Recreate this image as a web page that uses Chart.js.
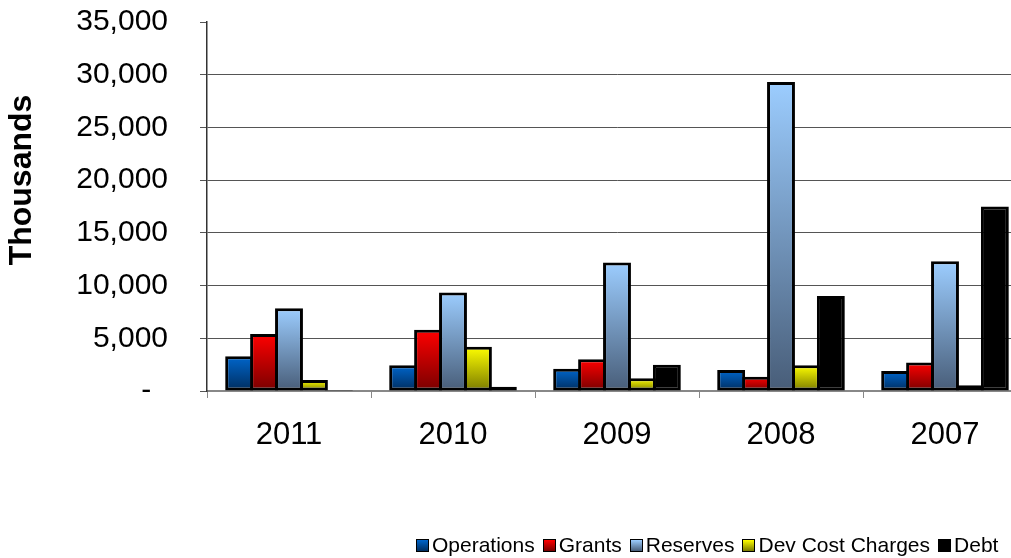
<!DOCTYPE html>
<html>
<head>
<meta charset="utf-8">
<script src="https://cdn.jsdelivr.net/npm/chart.js@4"></script>
<style>
    html, body { margin: 0; padding: 0; background: #fff; overflow: hidden; }
    #wrap { position: relative; width: 1030px; height: 558px; }
    #legend {
        position: absolute; left: 416px; top: 532px;
        display: flex; align-items: center;
        font-family: "Liberation Sans", Arial, sans-serif; font-size: 21px; color: #000;
        line-height: 26px; white-space: nowrap;
    }
    #legend .item { display: flex; align-items: center; margin-right: 8px; }
    #legend .box { width: 11px; height: 11px; border: 1.5px solid #000; margin-right: 3px; }
</style>
</head>
<body>
<div id="wrap">
    <canvas id="fundingChart" width="1030" height="558"></canvas>
    <div id="legend"></div>
</div>
<script>
const years = ['2011', '2010', '2009', '2008', '2007'];
const seriesNames = ['Operations', 'Grants', 'Reserves', 'Dev Cost Charges', 'Debt'];
const operations = [3300, 2450, 2100, 2000, 1900];
const grants = [5400, 5800, 3000, 1350, 2700];
const reserves = [7850, 9350, 12200, 29300, 12300];
const devCostCharges = [1050, 4200, 1200, 2450, 550];
const debt = [100, 400, 2500, 9000, 17500];
const yTicks = [0, 5000, 10000, 15000, 20000, 25000, 30000, 35000];

// top / bottom colours of each bar gradient
const fills = [
    ['#0066cc', '#002d5e'],
    ['#ff0000', '#780000'],
    ['#9ccdff', '#485d78'],
    ['#ffff00', '#7a7a00'],
    ['#000000', '#000000']
];

function barGradient(top, bottom) {
    return function(context) {
        const chart = context.chart;
        if (!chart.chartArea || !chart.scales.y) return top;
        const y = chart.scales.y;
        const yTop = y.getPixelForValue(context.raw);
        const yBot = y.getPixelForValue(0);
        if (yBot - yTop < 2) return bottom;
        const g = chart.ctx.createLinearGradient(0, yTop, 0, yBot);
        g.addColorStop(0, top);
        g.addColorStop(1, bottom);
        return g;
    };
}

const values = [operations, grants, reserves, devCostCharges, debt];

const sideTitle = {
    id: 'sideTitle',
    afterDraw(chart) {
        const c = chart.ctx;
        c.save();
        c.translate(22, 180);
        c.rotate(-Math.PI / 2);
        c.font = 'bold 32px "Liberation Sans", Arial, sans-serif';
        c.fillStyle = '#000';
        c.textAlign = 'center';
        c.textBaseline = 'middle';
        c.fillText('Thousands', 0, 0);
        c.restore();
    }
};

const ctx = document.getElementById('fundingChart').getContext('2d');
const fundingChart = new Chart(ctx, {
    type: 'bar',
    data: {
        labels: years,
        datasets: seriesNames.map((name, i) => ({
            label: name,
            data: values[i],
            backgroundColor: barGradient(fills[i][0], fills[i][1]),
            borderColor: '#000',
            borderWidth: 3,
            borderSkipped: false,
            categoryPercentage: 0.76,
            barPercentage: 1.12
        }))
    },
    options: {
        responsive: false,
        animation: false,
        devicePixelRatio: 1,
        layout: {
            padding: { top: 22, right: 3, bottom: 0, left: 0 }
        },
        plugins: {
            legend: { display: false },
            tooltip: { enabled: false }
        },
        scales: {
            x: {
                afterFit: function(scale) {
                    scale.height = 167;
                    scale.paddingLeft = 0;
                    scale.paddingRight = 0;
                },
                grid: {
                    drawOnChartArea: false,
                    tickLength: 7,
                    tickColor: '#888'
                },
                border: { color: '#888', width: 2 },
                ticks: {
                    color: '#000',
                    padding: 19,
                    font: { family: '"Liberation Sans", Arial, sans-serif', size: 31 }
                }
            },
            y: {
                min: 0,
                max: 35000,
                afterFit: function(scale) {
                    scale.width = 207;
                    scale.paddingTop = 0;
                    scale.paddingBottom = 0;
                },
                afterBuildTicks: function(scale) {
                    scale.ticks = yTicks.map(v => ({ value: v }));
                },
                grid: {
                    color: function(c) {
                        if (c.tick && c.tick.value === 35000) return 'rgba(0,0,0,0)';
                        if (c.tick && c.tick.value === 0) return '#888';
                        return '#555';
                    },
                    tickLength: 7,
                    tickColor: '#555'
                },
                border: { color: '#333', width: 1.5 },
                ticks: {
                    color: '#000',
                    padding: 32,
                    font: { family: '"Liberation Sans", Arial, sans-serif', size: 30 },
                    callback: function(value) {
                        return value === 0 ? '-\u2007' : value.toLocaleString('en-US');
                    }
                }
            }
        }
    },
    plugins: [sideTitle]
});

// html legend built from the same series list
const legend = document.getElementById('legend');
seriesNames.forEach((name, i) => {
    const item = document.createElement('span');
    item.className = 'item';
    const box = document.createElement('span');
    box.className = 'box';
    box.style.background = `linear-gradient(${fills[i][0]}, ${fills[i][1]})`;
    const text = document.createElement('span');
    text.textContent = name;
    item.appendChild(box);
    item.appendChild(text);
    legend.appendChild(item);
});
</script>
</body>
</html>
